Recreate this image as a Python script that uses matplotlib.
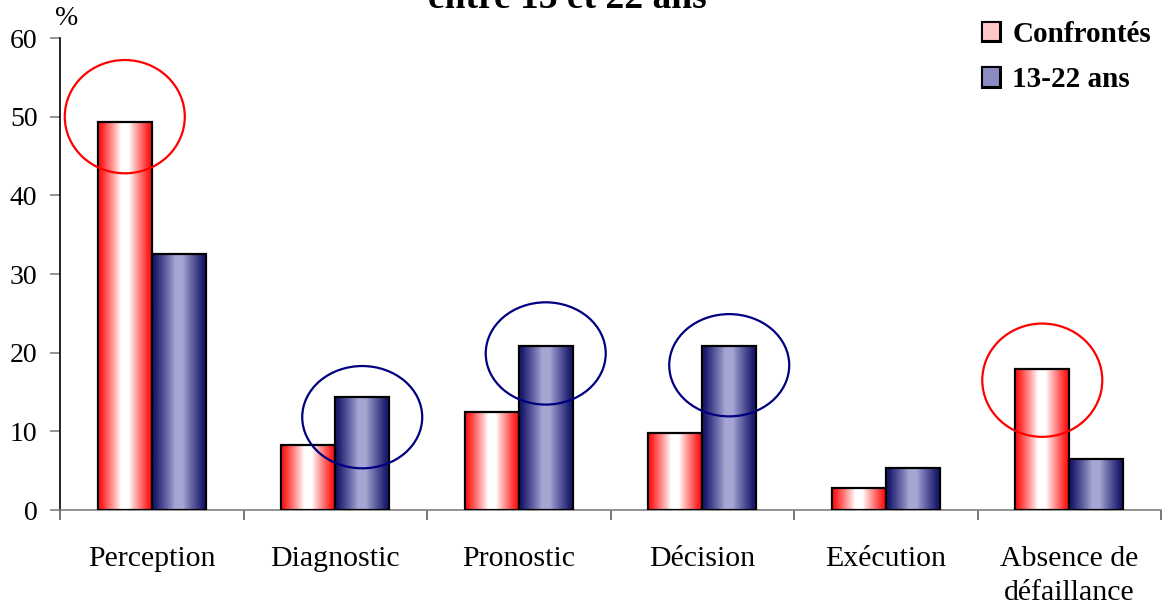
import numpy as np
import matplotlib
matplotlib.use("Agg")
import matplotlib.pyplot as plt
from matplotlib.patches import Ellipse, Patch, Rectangle
from matplotlib.colors import to_rgb

categories = ["Perception", "Diagnostic", "Pronostic", "Décision", "Exécution", "Absence de\ndéfaillance"]
series_names = ["Confrontés", "13-22 ans"]
confrontes = [49.3, 8.3, 12.5, 9.8, 2.8, 17.9]
ans_13_22 = [32.5, 14.4, 20.8, 20.8, 5.3, 6.5]
y_ticks = [0, 10, 20, 30, 40, 50, 60]
title_text = "entre 13 et 22 ans"

# highlighted bars: (category index, series index, ellipse y-centre)
highlights = [(0, 0, 50.0), (1, 1, 11.8), (2, 1, 19.9), (3, 1, 18.4), (5, 0, 16.5)]

plt.rcParams['font.family'] = ['Liberation Serif', 'DejaVu Serif']

W, H = 1162, 611
fig = plt.figure(figsize=(W/100, H/100), dpi=100)
ax = fig.add_axes([60/W, 1-510/H, 1101/W, 472/H])

x = np.arange(len(categories))
w = 0.294

def gradient_colors(edge, centre, n=200):
    e = np.array(to_rgb(edge)); c = np.array(to_rgb(centre))
    t = np.linspace(0, 1, n)
    d = np.abs(t - 0.5) / 0.5  # 0 at centre, 1 at edges
    f = np.clip((d - 0.15) / 0.75, 0, 1) ** 0.9
    cols = c[None, :] * (1 - f[:, None]) + e[None, :] * f[:, None]
    return cols[None, :, :]

red_grad = gradient_colors('#FF1A1A', '#FFFFFF')
blue_grad = gradient_colors('#1A1A6E', '#A6A6D4')

bars_r = ax.bar(x - w/2, confrontes, w, facecolor='none', edgecolor='black', linewidth=1.6, zorder=3)
bars_b = ax.bar(x + w/2, ans_13_22, w, facecolor='none', edgecolor='black', linewidth=1.6, zorder=3)

for bars, grad in ((bars_r, red_grad), (bars_b, blue_grad)):
    for b in bars:
        x0, y0 = b.get_x(), b.get_y()
        im = ax.imshow(grad, extent=[x0, x0 + b.get_width(), y0, y0 + b.get_height()],
                       aspect='auto', zorder=2, interpolation='bilinear')
        im.set_clip_path(b)

ell_colors = ['#FF0000', '#000080']
for ci, si, yc in highlights:
    xc = x[ci] + (-w/2 if si == 0 else w/2)
    hgt = 14.4 if si == 0 else 13.0
    ax.add_patch(Ellipse((xc, yc), 0.654, hgt, fill=False,
                         edgecolor=ell_colors[si], linewidth=1.6, zorder=4))

ax.set_xlim(-0.5, len(categories) - 0.5)
ax.set_ylim(0, 60)
ax.set_yticks(y_ticks)
ax.tick_params(axis='y', labelsize=20, length=7.2, width=1.2, color='#808080', pad=9)
ax.set_xticks(np.arange(len(categories) + 1) - 0.5)
ax.set_xticklabels([])
ax.set_xticks(x, minor=True)
ax.set_xticklabels(categories, minor=True, fontsize=21.5, linespacing=1.38)
ax.tick_params(axis='x', which='major', length=7, width=1.2, color='#606060', direction='out')
ax.tick_params(axis='x', which='minor', length=0, pad=26)

for s in ['top', 'right']:
    ax.spines[s].set_visible(False)
ax.spines['left'].set_color('black')
ax.spines['left'].set_linewidth(1.2)
ax.spines['bottom'].set_color('#808080')
ax.spines['bottom'].set_linewidth(1.2)

fig.text(67/W, 1-25/H, "%", fontsize=20, ha='center', va='baseline')
fig.text(567/W, 1-8/H, title_text, fontsize=27, fontweight='bold',
         ha='center', va='baseline')

handles = [Patch(facecolor='#FFC8C8', edgecolor='black', linewidth=1.5),
           Patch(facecolor='#8C8CC4', edgecolor='black', linewidth=1.5)]
leg = fig.legend(handles, series_names, loc='upper left',
                 bbox_to_anchor=(982/W, 1-21/H), frameon=False,
                 prop={'family': 'Liberation Serif', 'weight': 'bold', 'size': 21},
                 handlelength=0.62, handleheight=0.65, handletextpad=0.42,
                 labelspacing=0.62, borderpad=0, borderaxespad=0)

# gradient fill for the legend keys
fig.canvas.draw()
r = fig.canvas.get_renderer()
for p, grad in zip(leg.get_patches(), (red_grad, blue_grad)):
    bb = p.get_window_extent(r)
    lax = fig.add_axes([bb.x0/W, bb.y0/H, bb.width/W, bb.height/H])
    lax.imshow(grad, aspect='auto', extent=[0, 1, 0, 1], interpolation='bilinear')
    lax.add_patch(Rectangle((0, 0), 1, 1, fill=False, edgecolor='black', linewidth=2.2,
                            transform=lax.transAxes, clip_on=False))
    lax.set_xlim(0, 1); lax.set_ylim(0, 1)
    lax.axis('off')

fig.savefig("out.png", dpi=100)
